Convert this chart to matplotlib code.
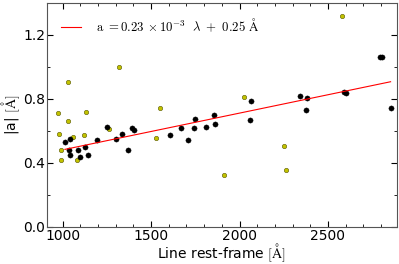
import matplotlib
matplotlib.use('Agg')
import matplotlib.pyplot as plt
import numpy as np
from matplotlib.ticker import MultipleLocator

plt.rcParams['mathtext.fontset'] = 'cm'

# black points (used for the fit)
fit_wave = [1013, 1039, 1036, 1039, 1084, 1097, 1125, 1144, 1194, 1252,
            1303, 1335, 1370, 1391, 1402, 1608, 1671, 1710, 1742, 1751,
            1809, 1855, 1863, 2059, 2067, 2344, 2384, 2375, 2590, 2602,
            2795, 2804, 2854]
fit_a = [0.530, 0.551, 0.476, 0.446, 0.477, 0.437, 0.498, 0.447, 0.542, 0.620,
         0.548, 0.580, 0.478, 0.614, 0.607, 0.573, 0.616, 0.542, 0.618, 0.674,
         0.620, 0.696, 0.642, 0.668, 0.788, 0.818, 0.802, 0.732, 0.842, 0.834,
         1.061, 1.061, 0.740]

# yellow points (other lines)
other_wave = [971, 1028, 1032, 1134, 1317, 1549, 977, 1061, 1121, 988,
              988, 1080, 1263, 1525, 2025, 2579, 1911, 2250, 2262]
other_a = [0.712, 0.906, 0.660, 0.719, 0.999, 0.740, 0.578, 0.563, 0.573, 0.480,
           0.419, 0.414, 0.609, 0.555, 0.812, 1.316, 0.320, 0.502, 0.351]

slope = 0.23e-3
intercept = 0.25

fig = plt.figure(figsize=(3.99, 2.64), dpi=100)
ax = fig.add_axes([0.118, 0.142, 0.876, 0.847])

ax.scatter(other_wave, other_a, s=10, c='#c2c200', edgecolors='#555500',
           linewidths=0.4, zorder=2)
ax.scatter(fit_wave, fit_a, s=14, c='black', edgecolors='black',
           linewidths=0.3, zorder=3)

lx = np.array([min(fit_wave), max(fit_wave)])
ax.plot(lx, slope * lx + intercept, color='red', lw=0.8, zorder=4,
        label=r'$\mathrm{a}\ =0.23\,\times10^{-3}\ \ \lambda\ +\ 0.25\ \mathrm{\AA}$')

ax.set_xlim(912, 2888)
ax.set_ylim(0, 1.4)
ax.xaxis.set_major_locator(MultipleLocator(500))
ax.xaxis.set_minor_locator(MultipleLocator(100))
ax.yaxis.set_major_locator(MultipleLocator(0.4))
ax.yaxis.set_minor_locator(MultipleLocator(0.2))
ax.tick_params(which='both', direction='in', top=True, right=True, labelsize=10, pad=1.5)
ax.tick_params(which='major', length=4)
ax.tick_params(which='minor', length=2)
for s in ax.spines.values():
    s.set_color('#555555')

ax.set_xlabel(r'Line rest-frame $[\mathrm{\AA}]$', fontsize=10, labelpad=-0.5)
ax.set_ylabel(r'|a| $[\mathrm{\AA}]$', fontsize=10, labelpad=0.5)

ax.legend(loc='upper left', frameon=False, fontsize=9.2, handlelength=1.55,
          borderaxespad=0.7, handletextpad=1.15)

fig.savefig('out.png', dpi=100)
